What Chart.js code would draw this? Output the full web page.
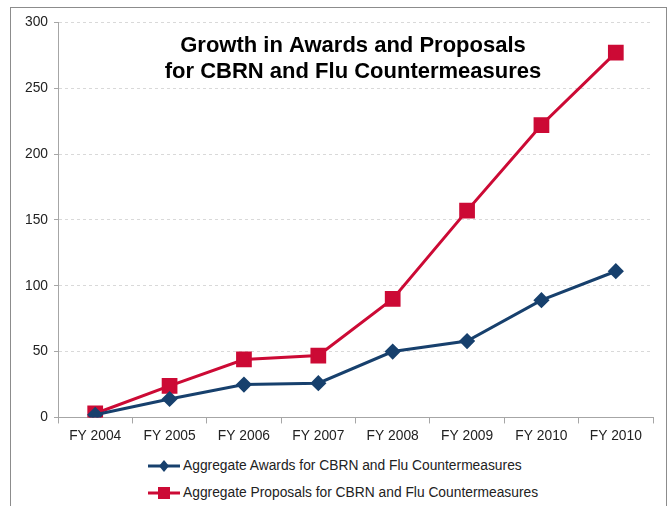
<!DOCTYPE html>
<html>
<head>
<meta charset="utf-8">
<script src="https://cdn.jsdelivr.net/npm/chart.js@4.4.0/dist/chart.umd.min.js"></script>
<style>
  body { margin: 0; background: #fff; font-family: "Liberation Sans", Arial, sans-serif; }
  #box { position: absolute; left: 10px; top: 7px; width: 655px; height: 520px; border: 1px solid #8c8c8c; }
  #myChart { position: absolute; left: 0; top: 0; }
  #legend { position: absolute; left: 137px; top: 447px; font-size: 13.8px; color: #222; }
  #legend div { height: 27px; line-height: 22px; white-space: nowrap; }
  #legend svg { vertical-align: middle; margin-right: 1px; }
</style>
</head>
<body>
<div id="box">
  <canvas id="myChart" width="655" height="440"></canvas>
  <div id="legend"></div>
</div>
<script>
const labels = ['FY 2004', 'FY 2005', 'FY 2006', 'FY 2007', 'FY 2008', 'FY 2009', 'FY 2010', 'FY 2010'];
const awards = [2, 14, 25, 26, 50, 58, 89, 111];
const proposals = [3, 24, 44, 47, 90, 157, 222, 277];
const titleLines = ['Growth in Awards and Proposals', 'for CBRN and Flu Countermeasures'];

const blue = '#17406d';
const red = '#cc0a35';

// title sits inside the plot area
const titleInside = {
  id: 'titleInside',
  afterDraw(chart) {
    const ctx = chart.ctx;
    ctx.save();
    ctx.font = 'bold 22px "Liberation Sans", Arial, sans-serif';
    ctx.fillStyle = '#000';
    ctx.textAlign = 'center';
    ctx.textBaseline = 'middle';
    ctx.fillText(titleLines[0], 342, 38);
    ctx.fillText(titleLines[1], 342, 64);
    ctx.restore();
  }
};

const data = {
  labels: labels,
  datasets: [{
    label: 'Aggregate Awards for CBRN and Flu Countermeasures',
    data: awards,
    borderColor: blue,
    backgroundColor: blue,
    borderWidth: 3,
    pointStyle: 'rectRot',
    pointRadius: 6,
    tension: 0
  }, {
    label: 'Aggregate Proposals for CBRN and Flu Countermeasures',
    data: proposals,
    borderColor: red,
    backgroundColor: red,
    borderWidth: 3,
    pointStyle: 'rect',
    pointRadius: 9,
    tension: 0
  }]
};

var myChart = new Chart(
  document.getElementById('myChart'),
  {
    type: 'line',
    data: data,
    options: {
      responsive: false,
      animation: false,
      layout: { padding: { left: 8, right: 13, top: 9, bottom: 0 } },
      plugins: {
        legend: { display: false },
        tooltip: { enabled: false }
      },
      scales: {
        x: {
          offset: true,
          grid: { offset: true, drawOnChartArea: false, color: '#a6a6a6', tickLength: 6 },
          border: { color: '#a6a6a6' },
          ticks: { color: '#222', font: { family: '"Liberation Sans", Arial', size: 13.8 }, padding: 4 }
        },
        y: {
          min: 0,
          max: 300,
          ticks: { stepSize: 50, color: '#222', font: { family: '"Liberation Sans", Arial', size: 13.8 }, padding: 6 },
          grid: { color: '#d9d9d9', tickLength: 4, tickColor: '#a6a6a6' },
          border: { color: '#a6a6a6', dash: [3, 3] }
        }
      }
    },
    plugins: [titleInside]
  }
);

// legend: line with marker, stacked
const leg = document.getElementById('legend');
data.datasets.forEach(function (ds) {
  const row = document.createElement('div');
  const marker = ds.pointStyle === 'rect'
    ? '<rect x="10" y="5" width="12" height="12" fill="' + ds.borderColor + '"/>'
    : '<polygon points="16,5 21,11 16,17 11,11" fill="' + ds.borderColor + '"/>';
  row.innerHTML = '<svg width="34" height="22"><line x1="0" y1="11" x2="32" y2="11" stroke="' + ds.borderColor + '" stroke-width="3"/>' + marker + '</svg>' + ds.label;
  leg.appendChild(row);
});
</script>
</body>
</html>
